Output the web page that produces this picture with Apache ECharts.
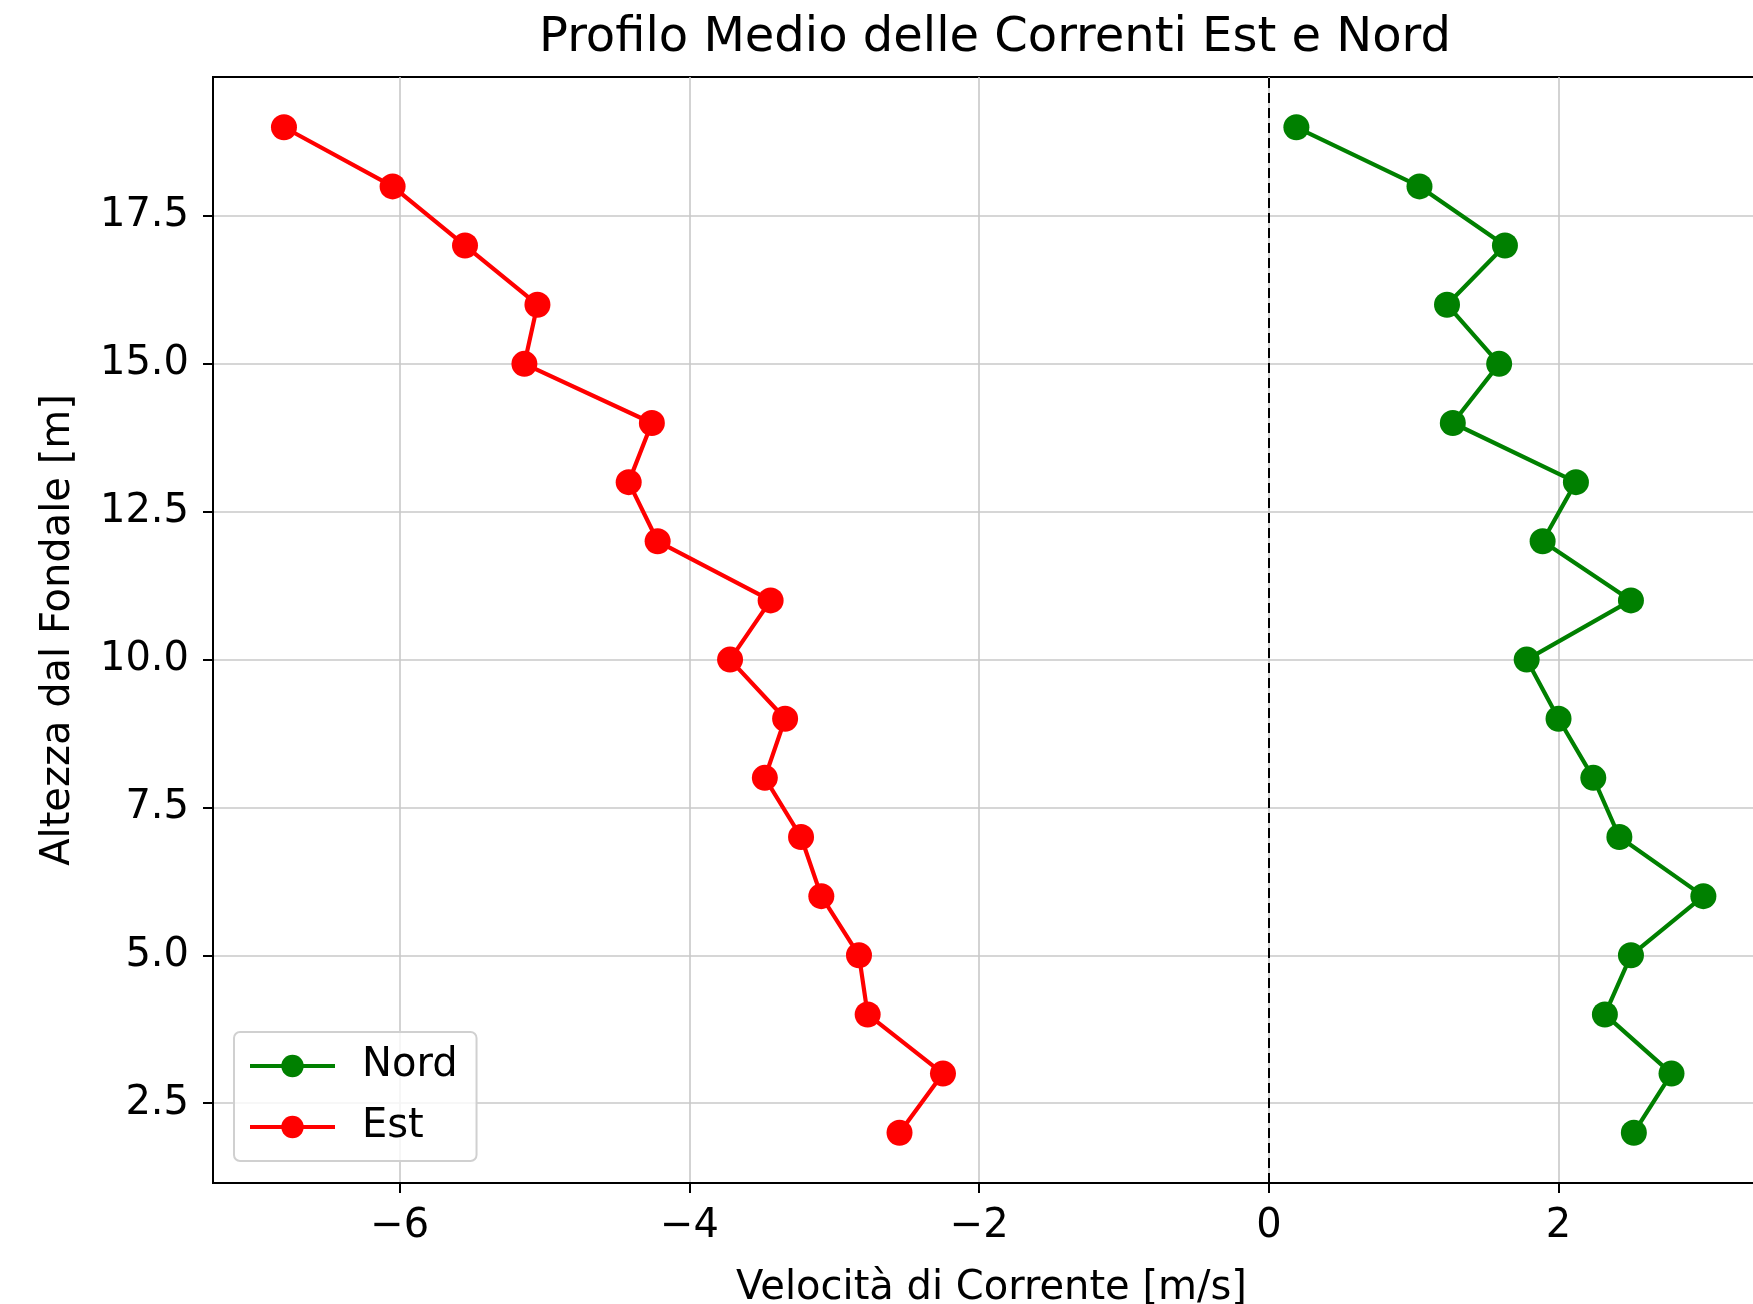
<!DOCTYPE html>
<html>
<head>
<meta charset="utf-8">
<title>Profilo Medio delle Correnti Est e Nord</title>
<script src="https://cdn.jsdelivr.net/npm/echarts@6/dist/echarts.min.js"></script>
<style>
  html, body { margin: 0; padding: 0; background: #fff; }
  #chart { width: 1753px; height: 1304px; }
</style>
</head>
<body>
<div id="chart"></div>
<script>
// altezza dal fondale (m)
var heights = [2, 3, 4, 5, 6, 7, 8, 9, 10, 11, 12, 13, 14, 15, 16, 17, 18, 19];
// velocita media (m/s)
var nord = [2.52, 2.78, 2.32, 2.50, 3.00, 2.42, 2.24, 2.00, 1.78, 2.50, 1.89, 2.12, 1.27, 1.59, 1.23, 1.63, 1.04, 0.19];
var est = [-2.55, -2.25, -2.77, -2.83, -3.09, -3.23, -3.48, -3.34, -3.72, -3.44, -4.22, -4.42, -4.26, -5.14, -5.05, -5.55, -6.05, -6.80];
var xTicks = [-6, -4, -2, 0, 2];
var yTicks = [2.5, 5.0, 7.5, 10.0, 12.5, 15.0, 17.5];

var font = 'DejaVu Sans';

function pairs(xs) {
  var out = [];
  xs.forEach(function (v, i) { out.push([v, heights[i]]); });
  return out;
}

var chart = echarts.init(document.getElementById('chart'));
var option = {
  backgroundColor: '#ffffff',
  animation: false,
  textStyle: { fontFamily: font, color: '#000' },
  title: {
    text: 'Profilo Medio delle Correnti Est e Nord',
    left: 990,
    textAlign: 'center',
    top: 10,
    textStyle: { fontFamily: font, fontSize: 48, fontWeight: 'normal', color: '#000' }
  },
  legend: {
    orient: 'vertical',
    left: 234,
    top: 1032,
    data: ['Nord', 'Est'],
    padding: [14, 19, 14, 14],
    itemGap: 21,
    itemWidth: 85,
    itemHeight: 28,
    backgroundColor: 'rgba(255,255,255,0.8)',
    borderColor: '#d0d0d0',
    borderWidth: 2,
    borderRadius: 6,
    lineStyle: { width: 4 },
    textStyle: { fontFamily: font, fontSize: 40, color: '#000', lineHeight: 40, padding: [0, 0, 0, 22] }
  },
  grid: {
    left: 213,
    top: 77,
    width: 1557,
    height: 1106,
    outerBoundsMode: 'none',
    containLabel: false,
    show: true,
    borderColor: '#000',
    borderWidth: 2,
    backgroundColor: 'transparent'
  },
  xAxis: {
    type: 'value',
    min: -7.29,
    max: 3.46,
    name: 'Velocità di Corrente [m/s]',
    nameLocation: 'middle',
    nameGap: 86,
    nameTextStyle: { fontFamily: font, fontSize: 40, color: '#000' },
    axisLine: { show: true, onZero: false, lineStyle: { color: '#000', width: 2 } },
    axisTick: { show: true, length: 10, customValues: xTicks, lineStyle: { color: '#000', width: 2 } },
    axisLabel: {
      customValues: xTicks,
      margin: 24,
      fontFamily: font,
      fontSize: 40,
      color: '#000',
      formatter: function (v) { return v < 0 ? '\u2212' + Math.abs(v) : String(v); }
    },
    splitLine: { show: true, lineStyle: { color: '#c8c8c8', width: 1.6 } }
  },
  yAxis: {
    type: 'value',
    min: 1.15,
    max: 19.85,
    name: 'Altezza dal Fondale [m]',
    nameLocation: 'middle',
    nameGap: 134,
    nameTextStyle: { fontFamily: font, fontSize: 40, color: '#000' },
    axisLine: { show: true, onZero: false, lineStyle: { color: '#000', width: 2 } },
    axisTick: { show: true, length: 10, customValues: yTicks, lineStyle: { color: '#000', width: 2 } },
    axisLabel: {
      customValues: yTicks,
      margin: 24,
      fontFamily: font,
      fontSize: 40,
      color: '#000',
      formatter: function (v) { return v.toFixed(1); }
    },
    splitLine: { show: true, lineStyle: { color: '#c8c8c8', width: 1.6 } }
  },
  series: [
    {
      name: 'Nord',
      type: 'line',
      data: pairs(nord),
      color: '#008000',
      symbol: 'circle',
      symbolSize: 26,
      lineStyle: { width: 4.2, color: '#008000' },
      itemStyle: { color: '#008000' },
      markLine: {
        silent: true,
        symbol: 'none',
        label: { show: false },
        lineStyle: { color: '#000', type: [10, 5], width: 2 },
        data: [{ xAxis: 0 }]
      }
    },
    {
      name: 'Est',
      type: 'line',
      data: pairs(est),
      color: '#ff0000',
      symbol: 'circle',
      symbolSize: 26,
      lineStyle: { width: 4.2, color: '#ff0000' },
      itemStyle: { color: '#ff0000' }
    }
  ]
};
chart.setOption(option);
</script>
</body>
</html>
